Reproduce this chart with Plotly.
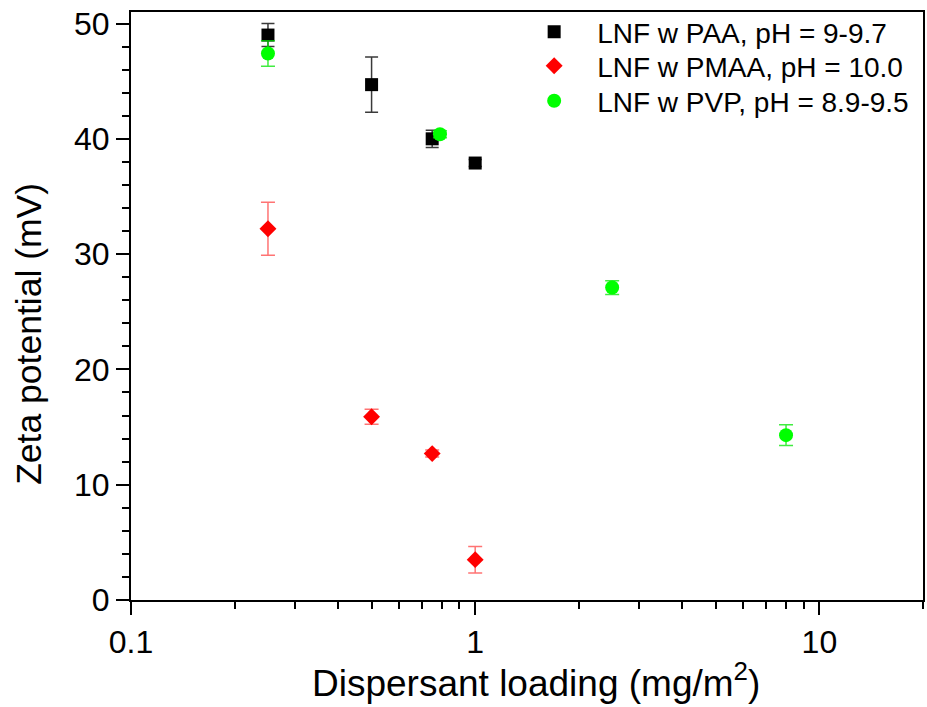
import plotly.graph_objects as go

# Dispersant loading (mg/m^2) and zeta potential (mV) with standard deviations
paa_x = [0.25, 0.5, 0.75, 1.0]
paa_y = [49.0, 44.7, 40.0, 37.9]
paa_err = [1.0, 2.4, 0.75, 0.3]

pmaa_x = [0.25, 0.5, 0.75, 1.0]
pmaa_y = [32.2, 15.9, 12.7, 3.5]
pmaa_err = [2.3, 0.65, 0.3, 1.15]

pvp_x = [0.25, 0.79, 2.5, 8.0]
pvp_y = [47.4, 40.4, 27.1, 14.3]
pvp_err = [1.1, 0.3, 0.6, 0.9]

series_names = [
    "LNF w PAA, pH = 9-9.7",
    "LNF w PMAA, pH = 10.0",
    "LNF w PVP, pH = 8.9-9.5",
]

x_tickvals = [0.1, 1, 10]
x_ticktext = ["0.1", "1", "10"]

FONT = "Arial, Liberation Sans, sans-serif"

fig = go.Figure()

fig.add_trace(go.Scatter(
    x=paa_x, y=paa_y, mode="markers", name=series_names[0], legend="legend",
    marker=dict(symbol="square", size=13, color="black"),
    error_y=dict(type="data", array=paa_err, color="#3a3a3a", thickness=1.5, width=6.5),
))
fig.add_trace(go.Scatter(
    x=pmaa_x, y=pmaa_y, mode="markers", name=series_names[1], legend="legend2",
    marker=dict(symbol="diamond", size=13, color="#ff0000"),
    error_y=dict(type="data", array=pmaa_err, color="rgba(255,0,0,0.55)", thickness=1.5, width=7),
))
fig.add_trace(go.Scatter(
    x=pvp_x, y=pvp_y, mode="markers", name=series_names[2], legend="legend3",
    marker=dict(symbol="circle", size=14, color="#00ff00"),
    error_y=dict(type="data", array=pvp_err, color="rgba(0,230,0,0.75)", thickness=1.5, width=7),
))

# one legend box per series so the rows sit closer together
def legend_box(yc):
    return dict(
        x=0.48, y=yc, xanchor="left", yanchor="middle",
        bgcolor="rgba(0,0,0,0)", borderwidth=0,
        font=dict(size=28, family=FONT, color="black"),
        itemsizing="trace", itemwidth=76,
    )

fig.update_layout(
    width=927, height=707,
    margin=dict(l=131, r=2, t=12, b=107),
    paper_bgcolor="white", plot_bgcolor="white",
    font=dict(family=FONT, color="black"),
    showlegend=True,
    legend=legend_box(0.966),
    legend2=legend_box(0.908),
    legend3=legend_box(0.8486),
    annotations=[
        dict(text="Dispersant loading (mg/m<sup>2</sup>)", xref="paper", yref="paper",
             x=0.5115, y=-0.137, xanchor="center", yanchor="middle", showarrow=False,
             font=dict(size=37, family=FONT, color="black")),
        dict(text="Zeta potential (mV)", xref="paper", yref="paper",
             x=-0.128, y=0.452, xanchor="center", yanchor="middle", showarrow=False,
             textangle=-90, font=dict(size=35.5, family=FONT, color="black")),
    ],
)

fig.update_xaxes(
    type="log", range=[-1, 1.30103],
    tickvals=x_tickvals, ticktext=x_ticktext,
    ticks="outside", ticklen=13, tickwidth=2, tickcolor="black",
    minor=dict(dtick="D1", ticks="outside", ticklen=7, tickwidth=2, tickcolor="black", showgrid=False),
    showline=True, linewidth=2, linecolor="black", mirror=True,
    showgrid=False, zeroline=False,
    tickfont=dict(size=32, family=FONT, color="black"),
)
fig.update_yaxes(
    range=[0, 51], dtick=10, tick0=0,
    ticks="outside", ticklen=13, tickwidth=2, tickcolor="black",
    minor=dict(dtick=2, ticks="outside", ticklen=7, tickwidth=2, tickcolor="black", showgrid=False),
    showline=True, linewidth=2, linecolor="black", mirror=True,
    showgrid=False, zeroline=False,
    tickfont=dict(size=32, family=FONT, color="black"),
)

fig.write_html("out.html")
